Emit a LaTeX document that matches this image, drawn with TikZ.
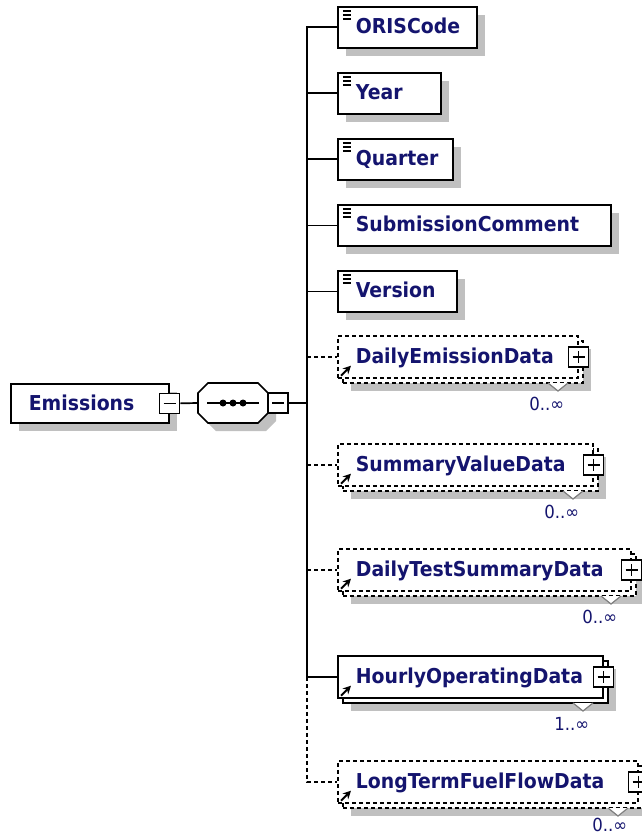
\documentclass[tikz,border=0pt]{standalone}
\usepackage{fontspec}
\newfontfamily\xsdfont{DejaVu Sans}[FakeStretch = 0.92]
\usetikzlibrary{shadows, arrows.meta}

\definecolor{xsdblue}{RGB}{20, 20, 110}
\definecolor{shadowgray}{RGB}{192, 192, 192}

\begin{document}
\begin{tikzpicture}[x = 1pt, y = -1pt, line width = 1.7pt,
    box/.style = {draw, fill = white, anchor = north west, inner sep = 0pt},
    simple/.style = {minimum height = 41pt, path picture = {
        \foreach \d in {4pt, 8pt, 12pt}
            \draw [line width = 1.5pt] ([xshift = 5pt, yshift = -\d]path picture bounding box.north west) -- ++(8pt, 0pt);}},
    complex/.style = {minimum height = 42pt},
    boxshadow/.style = {drop shadow = {shadow xshift = 8pt, shadow yshift = -8pt, fill = shadowgray, opacity = 1}},
    optional/.style = {dash pattern = on 4pt off 3pt},
    elemtext/.style = {anchor = base west, inner sep = 0pt, text = xsdblue, font = \xsdfont\bfseries\fontsize{20.5}{24}\selectfont},
    multtext/.style = {anchor = base east, inner sep = 0pt, text = xsdblue, font = \xsdfont\fontsize{18}{21}\selectfont},
    minusbox/.style = {draw, solid, fill = white, minimum size = 20pt, inner sep = 0pt, line width = 1.5pt, path picture = {
        \draw [line width = 1.5pt] ([xshift = 4pt]path picture bounding box.west) -- ([xshift = -4pt]path picture bounding box.east);}},
    plusbox/.style = {draw, solid, fill = white, minimum size = 20pt, inner sep = 0pt, line width = 1.5pt, path picture = {
        \draw [line width = 1.5pt] ([xshift = 4pt]path picture bounding box.west) -- ([xshift = -4pt]path picture bounding box.east);
        \draw [line width = 1.5pt] ([yshift = -4pt]path picture bounding box.north) -- ([yshift = 4pt]path picture bounding box.south);}},
    refarrow/.style = {-{Stealth[length = 8pt, width = 8pt]}, line width = 2pt, solid},
    notch/.style = {draw = gray, fill = white, line width = 1.2pt, solid}]

    \useasboundingbox (0, 0) rectangle (641, 837);

    % Emissions
    \node (emis) [box, boxshadow, minimum width = 158pt, minimum height = 39pt] at (10, 383) {};
    \node (emis-t) [elemtext] at (28, 410) {Emissions};
    \node (emis-m) [minusbox] at (emis.east) {};

    %% Sequence
    \fill [shadowgray] (216, 391) -- (266, 391) -- (276, 401) -- (276, 421) -- (266, 431) -- (216, 431) -- (206, 421) -- (206, 401) -- cycle;
    \draw [fill = white] (208, 383) -- (258, 383) -- (268, 393) -- (268, 413) -- (258, 423) -- (208, 423) -- (198, 413) -- (198, 393) -- cycle;
    \node (seq) [minimum width = 70pt, minimum height = 40pt, inner sep = 0pt] at (233, 403) {};
    \draw ([xshift = 10pt]seq.west) -- ([xshift = -10pt]seq.east);
    \fill (223, 403) circle (3.5) (233, 403) circle (3.5) (243, 403) circle (3.5);
    \node (seq-m) [minusbox] at (278, 403) {};
    \draw (emis-m.east) -- (seq.west);
    \coordinate (bus) at (307, 403);
    \draw (seq-m.east) -- (bus);

    % ORISCode
    \node (oris) [box, simple, boxshadow, minimum width = 139pt] at (337, 6) {};
    \node (oris-t) [elemtext] at (355, 34) {ORISCode};

    % Year
    \node (year) [box, simple, boxshadow, minimum width = 103pt] at (337, 72) {};
    \node (year-t) [elemtext] at (355, 100) {Year};

    % Quarter
    \node (qtr) [box, simple, boxshadow, minimum width = 115pt] at (337, 138) {};
    \node (qtr-t) [elemtext] at (355, 165) {Quarter};

    % SubmissionComment
    \node (subc) [box, simple, boxshadow, minimum width = 273pt] at (337, 204) {};
    \node (subc-t) [elemtext] at (355, 231) {SubmissionComment};

    % Version
    \node (ver) [box, simple, boxshadow, minimum width = 119pt] at (337, 270) {};
    \node (ver-t) [elemtext] at (355, 297) {Version};

    % DailyEmissionData
    \node (dem-b) [box, complex, optional, boxshadow, minimum width = 240pt] at (342, 340) {};
    \node (dem) [box, complex, optional, minimum width = 240pt] at (337, 335) {};
    \draw [notch] (548, 383) -- (558, 391) -- (568, 383);
    \node (dem-p) [plusbox] at (dem.east) {};
    \draw [refarrow] ([shift = {(4, -3)}]dem.south west) -- ++(10, -10);
    \node (dem-t) [elemtext] at (355, 363) {DailyEmissionData};
    \node (dem-c) [multtext] at (565, 410) {0..∞};

    % SummaryValueData
    \node (svd-b) [box, complex, optional, boxshadow, minimum width = 255pt] at (342, 448) {};
    \node (svd) [box, complex, optional, minimum width = 255pt] at (337, 443) {};
    \draw [notch] (563, 491) -- (573, 499) -- (583, 491);
    \node (svd-p) [plusbox] at (svd.east) {};
    \draw [refarrow] ([shift = {(4, -3)}]svd.south west) -- ++(10, -10);
    \node (svd-t) [elemtext] at (355, 471) {SummaryValueData};
    \node (svd-c) [multtext] at (580, 518) {0..∞};

    % DailyTestSummaryData
    \node (dts-b) [box, complex, optional, boxshadow, minimum width = 293pt] at (342, 553) {};
    \node (dts) [box, complex, optional, minimum width = 293pt] at (337, 548) {};
    \draw [notch] (601, 596) -- (611, 604) -- (621, 596);
    \node (dts-p) [plusbox] at (dts.east) {};
    \draw [refarrow] ([shift = {(4, -3)}]dts.south west) -- ++(10, -10);
    \node (dts-t) [elemtext] at (355, 576) {DailyTestSummaryData};
    \node (dts-c) [multtext] at (618, 623) {0..∞};

    % HourlyOperatingData
    \node (hod-b) [box, complex, boxshadow, minimum width = 265pt] at (342, 660) {};
    \node (hod) [box, complex, minimum width = 265pt] at (337, 655) {};
    \draw [notch] (573, 703) -- (583, 711) -- (593, 703);
    \node (hod-p) [plusbox] at (hod.east) {};
    \draw [refarrow] ([shift = {(4, -3)}]hod.south west) -- ++(10, -10);
    \node (hod-t) [elemtext] at (355, 683) {HourlyOperatingData};
    \node (hod-c) [multtext] at (590, 730) {1..∞};

    % LongTermFuelFlowData
    \node (ltf-b) [box, complex, optional, boxshadow, minimum width = 300pt] at (342, 765) {};
    \node (ltf) [box, complex, optional, minimum width = 300pt] at (337, 760) {};
    \draw [notch] (608, 808) -- (618, 816) -- (628, 808);
    \node (ltf-p) [plusbox] at (ltf.east) {};
    \draw [refarrow] ([shift = {(4, -3)}]ltf.south west) -- ++(10, -10);
    \node (ltf-t) [elemtext] at (355, 788) {LongTermFuelFlowData};
    \node (ltf-c) [multtext] at (628, 831) {0..∞};

    %% Connectors
    \draw (bus) |- (oris.west);
    \draw (bus) |- (year.west);
    \draw (bus) |- (qtr.west);
    \draw (bus) |- (subc.west);
    \draw (bus) |- (ver.west);
    \draw (bus) |- (hod.west);
    \draw [optional] (bus |- dem.west) -- (dem.west);
    \draw [optional] (bus |- svd.west) -- (svd.west);
    \draw [optional] (bus |- dts.west) -- (dts.west);
    \draw [optional] (bus |- hod.west) |- (ltf.west);

\end{tikzpicture}
\end{document}
